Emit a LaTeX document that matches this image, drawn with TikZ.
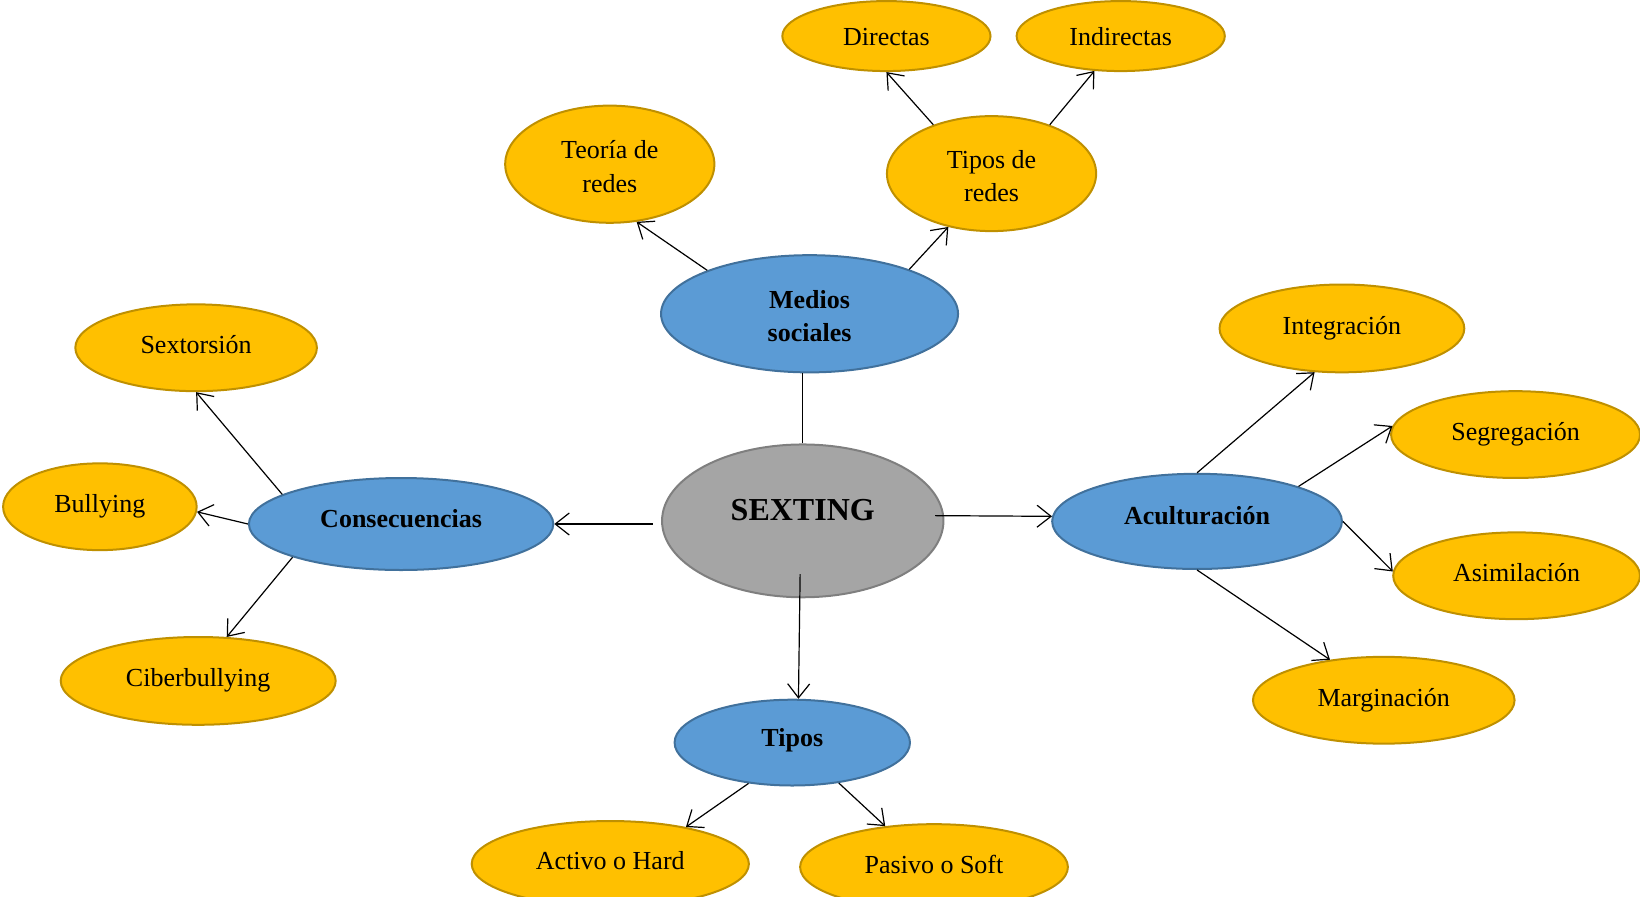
\documentclass[tikz,border=0pt]{standalone}
\usepackage{fontspec}
\setmainfont{Liberation Serif}
\usetikzlibrary{arrows.meta,shapes.geometric,calc}
\definecolor{yfill}{HTML}{FFC000}
\definecolor{ydraw}{HTML}{BF9000}
\definecolor{bfill}{HTML}{5B9BD5}
\definecolor{bdraw}{HTML}{41719C}
\definecolor{gfill}{HTML}{A5A5A5}
\definecolor{gdraw}{HTML}{7F7F7F}
\newcommand{\topstrut}{\rule{0pt}{11.5pt}}
\begin{document}
\begin{tikzpicture}[x=0.523pt,y=-0.523pt,
  oval/.style={ellipse, inner sep=0pt, line width=1pt, font=\fontsize{13}{16.7}\selectfont},
  leaf/.style={oval, fill=yfill, draw=ydraw},
  hub/.style={oval, fill=bfill, draw=bdraw, font=\fontsize{13}{16.7}\selectfont\bfseries},
  one/.style={text height=9pt, text depth=3pt},
  hubone/.style={text height=9pt, text depth=5.5pt},
  low/.style={text height=9pt, text depth=0pt},
  sz/.style 2 args={minimum width=#1pt, minimum height=#2pt},
  arr/.style={line width=0.6pt, -{Straight Barb[length=7pt,width=11pt]}},
  ln/.style={line width=0.6pt}]
\useasboundingbox (0,0) rectangle (1568,857);

\node[leaf,low,sz={104.1}{35.0}] (directas) at (847.5,34.5) {Directas};
\node[leaf,low,sz={104.1}{35.0}] (indirectas) at (1071.5,34.5) {Indirectas};
\node[leaf,align=center,sz={104.6}{58.6}] (teoria) at (583,157) {\topstrut Teoría de\\redes};
\node[leaf,align=center,sz={104.6}{57.5}] (tredes) at (948,166) {\topstrut Tipos de\\redes};
\node[hub,align=center,sz={148.5}{58.6}] (medios) at (774,300) {\topstrut Medios\\sociales};
\node[leaf,one,sz={120.8}{43.4}] (sextor) at (187.5,332.5) {Sextorsión};
\node[leaf,one,sz={96.8}{43.4}] (bully) at (95.5,484.5) {Bullying};
\node[hub,hubone,sz={152.2}{46.0}] (cons) at (383.5,501) {Consecuencias};
\node[leaf,one,sz={137.5}{43.9}] (ciber) at (189.5,651) {Ciberbullying};
\node[oval, fill=gfill, draw=gdraw, font=\fontsize{16}{19}\selectfont\bfseries, text height=11pt, text depth=11pt, sz={140.7}{76.4}] (sexting) at (767.5,498) {SEXTING};
\node[hub,hubone,sz={117.7}{42.9}] (tipos) at (757.5,710) {Tipos};
\node[leaf,one,sz={138.6}{42.9}] (activo) at (583.5,826) {Activo o Hard};
\node[leaf,one,sz={133.9}{42.9}] (pasivo) at (893,829) {Pasivo o Soft};
\node[hub,hubone,sz={144.9}{47.6}] (acult) at (1144.5,498.5) {Aculturación};
\node[leaf,one,sz={122.4}{43.9}] (integ) at (1283,314) {Integración};
\node[leaf,one,sz={124.5}{43.4}] (segreg) at (1449,415.5) {Segregación};
\node[leaf,one,sz={123.4}{43.4}] (asim) at (1450,550.5) {Asimilación};
\node[leaf,one,sz={130.8}{43.4}] (margin) at (1323,669.5) {Marginación};

\draw[ln] (sexting.north) -- (medios.south -| sexting.north);
\draw[arr] ($(sexting.west |- cons.east)+(-8,0)$) -- (cons.east);
\draw[arr] ($(sexting.east)+(-9,-5)$) -- (acult.178);
\draw[arr] ($(sexting.south)+(-2.5,-23)$) -- (tipos.82);
\draw[arr] (medios.157) -- (teoria.295);
\draw[arr] (medios.24) -- (tredes.231);
\draw[arr] (tredes.140) -- (directas.south);
\draw[arr] (tredes.40) -- (indirectas.233);
\draw[arr] (cons.166) -- (sextor.south);
\draw[arr] (cons.west) -- (bully.357);
\draw[arr] (cons.197) -- (ciber.57);
\draw[arr] (acult.north) -- (integ.238);
\draw[arr] (acult.19) -- (segreg.176);
\draw[arr] (acult.east) -- (asim.178);
\draw[arr] (acult.south) -- (margin.143);
\draw[arr] (tipos.223) -- (activo.26);
\draw[arr] (tipos.319) -- (pasivo.140);
\end{tikzpicture}
\end{document}
